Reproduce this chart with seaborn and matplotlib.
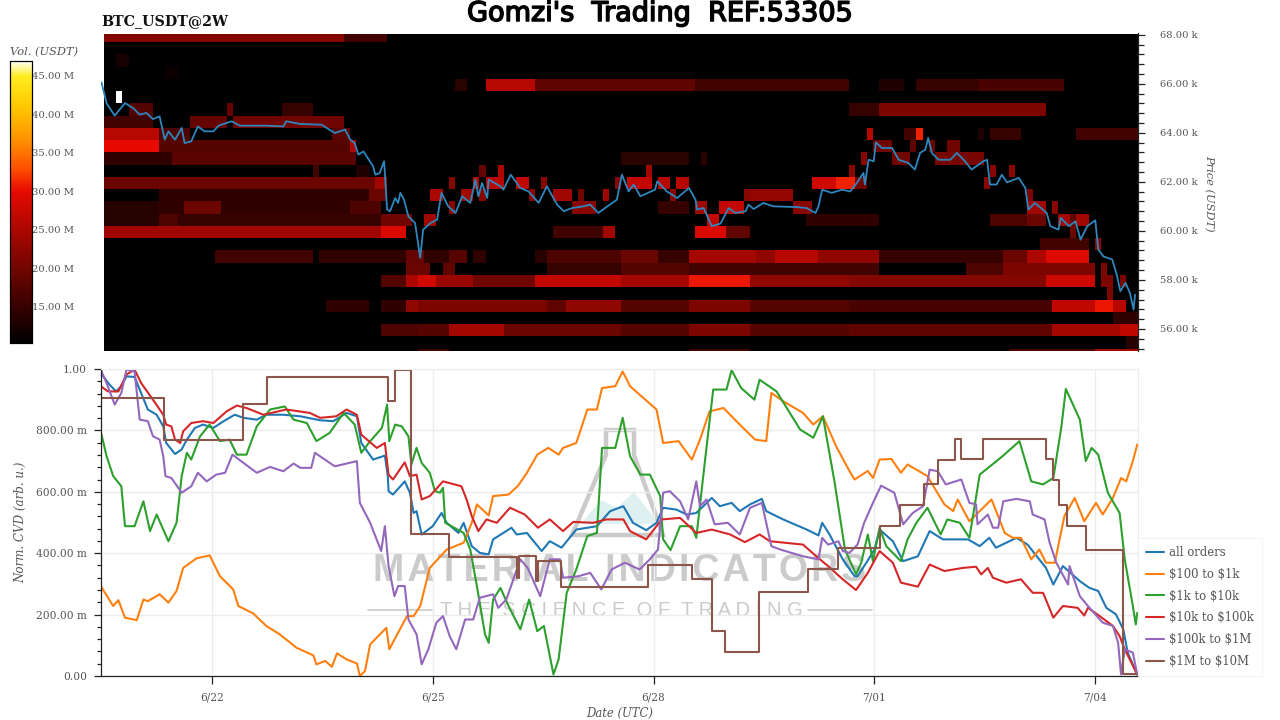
import numpy as np
import pandas as pd
import matplotlib
matplotlib.use("Agg")
import matplotlib.pyplot as plt
import matplotlib.patheffects as pe
import seaborn as sns
from matplotlib.colors import LinearSegmentedColormap
from matplotlib.patches import Polygon
from matplotlib.ticker import MultipleLocator

sns.set_style("white")
plt.rcParams["font.family"] = ["DejaVu Serif"]

# liquidity walls per price level: (first 2h column, last 2h column, volume in M USDT)
lvl_68000 = [(0, 39, 21.5), (39, 46, 16)]
lvl_67000 = [(2, 4, 12.4)]
lvl_66500 = [(10, 12, 11.5)]
lvl_66000 = [(57, 59, 14), (62, 70, 26), (70, 96, 18.5), (96, 121, 16), (126, 130, 13), (132, 142, 15), (142, 156, 16.5)]
lvl_65500 = [(2, 3, 47)]
lvl_65000 = [(4, 8, 17.5), (20, 21, 19), (29, 34, 15), (121, 126, 15), (126, 153, 21)]
lvl_64500 = [(0, 8, 16), (14, 20, 19), (21, 39, 20)]
lvl_64000 = [(0, 9, 26), (9, 14, 17), (37, 40, 18), (124, 125, 26), (130, 132, 16), (132, 133, 31), (142, 143, 13), (144, 149, 15), (158, 168, 16)]
lvl_63500 = [(0, 9, 30), (9, 40, 17.7), (40, 41, 25), (125, 128, 20), (131, 132, 18.5), (134, 135, 19), (137, 139, 20)]
lvl_63000 = [(0, 11, 14.4), (11, 41, 18), (84, 95, 14), (97, 98, 14), (123, 124, 22), (128, 131, 20), (135, 143, 20.5)]
lvl_62500 = [(34, 35, 16), (41, 43, 13), (61, 62, 19), (64, 65, 25), (88, 89, 24), (121, 122, 22), (144, 145, 22), (147, 148, 22)]
lvl_62000 = [(0, 44, 19.5), (44, 46, 24), (56, 57, 22), (60, 61, 26), (62, 65, 26), (67, 69, 27), (71, 72, 22), (83, 84, 22), (85, 89, 27),
             (90, 92, 26), (93, 95, 26), (115, 119, 28), (119, 122, 31), (122, 124, 20), (143, 144, 22)]
lvl_61500 = [(9, 43, 14.4), (43, 46, 19.4), (53, 55, 25), (58, 60, 24), (61, 62, 22), (69, 70, 22), (73, 76, 24), (77, 78, 20), (81, 82, 24),
             (92, 93, 22), (104, 105, 22), (105, 112, 23), (150, 151, 21)]
lvl_61000 = [(0, 9, 13.5), (9, 13, 14.4), (13, 19, 19.4), (19, 40, 14.4), (40, 45, 17), (56, 57, 22), (76, 80, 22), (90, 95, 15), (96, 98, 24),
             (100, 104, 27), (112, 115, 22), (150, 153, 24), (154, 155, 22)]
lvl_60500 = [(0, 9, 13.5), (9, 12, 17), (12, 45, 15), (45, 50, 20), (52, 54, 24), (98, 100, 27), (114, 126, 14.4), (144, 150, 17), (150, 153, 19.4),
             (155, 157, 24), (157, 158, 18.5), (158, 160, 24)]
lvl_60000 = [(0, 45, 24), (45, 49, 29), (73, 81, 16), (81, 83, 24), (96, 101, 29), (101, 105, 18.5), (157, 158, 19.4)]
lvl_59500 = [(152, 160, 16), (161, 162, 22)]
lvl_59000 = [(18, 34, 16), (35, 49, 14.4), (49, 52, 19), (52, 56, 14.4), (56, 59, 17.7), (60, 62, 14.4), (70, 72, 13.6), (72, 84, 17), (84, 90, 19.4),
             (90, 95, 15), (95, 106, 24.4), (106, 109, 22.7), (109, 116, 26), (116, 126, 22.7), (126, 146, 15), (146, 150, 19.4),
             (150, 153, 25), (153, 160, 29.3)]
lvl_58500 = [(49, 53, 19.4), (55, 57, 18.5), (72, 84, 15), (84, 95, 17.7), (95, 126, 16), (140, 146, 17), (146, 161, 21), (162, 163, 21)]
lvl_58000 = [(45, 49, 17.5), (49, 51, 25), (51, 54, 28), (54, 60, 23.5), (60, 70, 20), (70, 84, 27), (84, 95, 24.4), (95, 105, 30.5), (105, 121, 22.7),
             (121, 153, 21.5), (153, 161, 27.7), (162, 164, 21), (165, 166, 21)]
lvl_57500 = [(163, 164, 21)]
lvl_57000 = [(36, 43, 14.4), (45, 49, 14.4), (49, 51, 22.7), (51, 72, 21), (72, 75, 18.5), (75, 84, 22.7), (84, 95, 17.7), (95, 105, 21), (105, 121, 17.7),
             (121, 154, 16.5), (154, 161, 26.8), (161, 164, 30.5), (164, 166, 26)]
lvl_56500 = [(164, 168, 14.4)]
lvl_56000 = [(45, 51, 17), (51, 56, 17.7), (56, 65, 24.4), (65, 84, 19.4), (84, 95, 17.7), (95, 105, 21), (105, 121, 17.7), (121, 154, 18.5),
             (154, 165, 24.4), (165, 168, 26.8)]
lvl_55500 = [(166, 168, 13.6)]
lvl_55000 = [(51, 56, 16), (95, 105, 16), (147, 161, 17), (161, 168, 24.4)]

price_levels = [68000, 67000, 66500, 66000, 65500, 65000, 64500, 64000, 63500, 63000, 62500, 62000, 61500, 61000,
                60500, 60000, 59500, 59000, 58500, 58000, 57500, 57000, 56500, 56000, 55500, 55000]
level_runs = [lvl_68000, lvl_67000, lvl_66500, lvl_66000, lvl_65500, lvl_65000, lvl_64500, lvl_64000, lvl_63500, lvl_63000,
              lvl_62500, lvl_62000, lvl_61500, lvl_61000, lvl_60500, lvl_60000, lvl_59500, lvl_59000, lvl_58500, lvl_58000,
              lvl_57500, lvl_57000, lvl_56500, lvl_56000, lvl_55500, lvl_55000]

# price, x in days from 6/22
t_price = [-1.50, -1.43, -1.36, -1.32, -1.27, -1.18, -1.07, -.98, -.89, -.80, -.71, -.66, -.64, -.59, -.50, -.41, -.37, -.28, -.19, -.10, .02, .09, .27, .38,
           .74, .97, 1.01, 1.20, 1.49, 1.67, 1.81, 1.88, 1.94, 1.99, 2.06, 2.19, 2.22, 2.28, 2.34, 2.38, 2.42, 2.49, 2.53, 2.56, 2.61, 2.67, 2.76,
           2.83, 2.87, 2.97, 3.06, 3.12, 3.21, 3.31, 3.40, 3.51, 3.58, 3.62, 3.67, 3.74, 3.76, 3.92, 3.96, 4.06, 4.19, 4.30, 4.44, 4.55, 4.69, 4.78,
           4.89, 5.05, 5.14, 5.25, 5.34, 5.50, 5.57, 5.66, 5.73, 5.82, 6.02, 6.05, 6.18, 6.32, 6.48, 6.57, 6.59, 6.68, 6.79, 6.91, 7.02, 7.11, 7.25,
           7.29, 7.36, 7.49, 7.63, 7.95, 8.08, 8.20, 8.24, 8.29, 8.42, 8.56, 8.67, 8.76, 8.85, 8.87, 8.92, 8.99, 9.02, 9.10, 9.24, 9.33, 9.46, 9.55,
           9.62, 9.69, 9.73, 9.78, 9.87, 10.03, 10.12, 10.23, 10.32, 10.48, 10.53, 10.57, 10.66, 10.73, 10.80, 10.96, 11.05, 11.09, 11.18, 11.34,
           11.39, 11.50, 11.53, 11.64, 11.73, 11.80, 11.89, 12.00, 12.04, 12.11, 12.23, 12.29, 12.34, 12.41, 12.47, 12.52, 12.54]
v_price = [66.06, 65.2, 64.88, 64.70, 64.88, 65.21, 65.01, 64.74, 64.81, 64.56, 64.67, 63.99, 63.72, 64.06, 63.72, 64.20, 63.58, 63.65, 64.26, 64.06, 64.06, 64.29, 64.47, 64.29,
           64.29, 64.26, 64.47, 64.36, 64.33, 63.99, 64.13, 63.72, 63.58, 63.11, 63.24, 62.63, 62.29, 62.36, 62.84, 60.87, 60.80, 61.34, 61.14, 61.55, 61.27, 60.59, 60.32,
           58.90, 60.05, 60.32, 60.46, 61.55, 61.0, 60.73, 61.41, 61.14, 62.09, 61.41, 61.95, 61.34, 62.09, 61.82, 61.68, 62.29, 61.75, 61.61, 61.14, 61.82, 61.07, 60.80,
           60.93, 61.0, 61.07, 60.73, 60.93, 61.27, 62.29, 61.61, 61.89, 61.41, 61.68, 62.02, 61.61, 61.34, 61.75, 61.27, 60.87, 60.93, 60.19, 60.30, 60.93, 60.73, 60.80,
           61.07, 60.89, 61.14, 61.0, 60.97, 60.93, 60.73, 61.0, 61.68, 61.55, 61.68, 61.61, 61.95, 62.36, 61.89, 62.90, 62.84, 63.61, 63.38, 63.38, 62.90, 62.77, 62.50,
           63.18, 63.31, 63.79, 63.18, 62.90, 62.90, 63.18, 62.84, 62.50, 62.84, 62.90, 61.89, 61.89, 62.29, 61.98, 62.16, 61.75, 60.87, 61.14, 60.73,
           60.19, 60.05, 60.53, 60.19, 60.39, 59.64, 60.19, 60.43, 59.24, 58.96, 58.83, 58.22, 57.54, 57.88, 57.47, 56.79, 57.40]

# normalised CVD per order size
t_all = [-1.51, -1.39, -1.30, -1.23, -1.16, -1.05, -.98, -.87, -.75, -.66, -.62, -.50, -.41, -.34, -.23, -.12, .02, .16, .31, .43, .61, .74, .97, 1.20, 1.47, 1.65, 1.83, 1.97,
         2.03, 2.19, 2.35, 2.39, 2.40, 2.46, 2.62, 2.69, 2.74, 2.78, 2.85, 3.0, 3.12, 3.19, 3.35, 3.42, 3.53, 3.64, 3.76, 3.82, 4.07, 4.14, 4.28, 4.48, 4.59, 4.75, 4.95, 5.23,
         5.41, 5.59, 5.72, 5.90, 6.04, 6.13, 6.31, 6.45, 6.58, 6.79, 6.90, 7.06, 7.17, 7.31, 7.47, 7.53, 7.76, 8.08, 8.24, 8.29, 8.39, 8.57, 8.73, 8.77, 8.89, 9.0, 9.07, 9.25,
         9.39, 9.59, 9.75, 9.93, 10.27, 10.43, 10.56, 10.65, 10.93, 11.08, 11.33, 11.43, 11.56, 11.79, 11.92, 12.04, 12.15, 12.28, 12.38, 12.44, 12.57]
v_all = [.987, .949, .927, .944, .976, .974, .933, .868, .851, .813, .759, .723, .738, .770, .808, .819, .808, .830, .851, .841, .835, .851, .851, .846, .833, .830, .857, .846,
         .759, .705, .718, .651, .602, .591, .634, .597, .531, .537, .461, .488, .531, .499, .466, .499, .423, .401, .396, .445, .483, .461, .466, .407, .439, .418, .477, .488,
         .537, .553, .499, .475, .499, .548, .542, .526, .531, .580, .553, .564, .537, .559, .577, .537, .510, .477, .458, .499, .461, .380, .325, .325, .369, .412, .477, .439,
         .374, .390, .472, .445, .445, .423, .450, .418, .450, .428, .352, .298, .358, .309, .287, .277, .222, .201, .152, .076, .005]

t_100 = [-1.51, -1.34, -1.27, -1.18, -1.02, -.93, -.87, -.71, -.59, -.48, -.39, -.21, -.03, .11, .29, .36, .56, .74, .92, 1.15, 1.38, 1.42, 1.54, 1.63, 1.70, 1.83, 1.97, 2.01, 2.08,
         2.15, 2.37, 2.41, 2.53, 2.65, 2.74, 2.83, 2.96, 3.19, 3.42, 3.53, 3.60, 3.76, 3.82, 4.03, 4.16, 4.28, 4.42, 4.57, 4.71, 4.77, 4.95, 5.10, 5.23, 5.30, 5.48, 5.58, 5.68,
         5.86, 6.04, 6.13, 6.34, 6.52, 6.63, 6.76, 6.95, 7.17, 7.38, 7.53, 7.60, 7.76, 8.03, 8.17, 8.30, 8.48, 8.66, 8.73, 8.91, 8.98, 9.07, 9.23, 9.36, 9.45, 9.72, 9.95, 10.07,
         10.13, 10.29, 10.59, 10.77, 10.88, 10.99, 11.13, 11.24, 11.33, 11.45, 11.58, 11.72, 11.85, 12.01, 12.10, 12.24, 12.35, 12.42, 12.51, 12.57]
v_100 = [.293, .228, .247, .190, .182, .249, .244, .266, .239, .277, .352, .383, .393, .325, .282, .228, .204, .163, .136, .092, .067, .038, .049, .030, .074, .054, .041, .0, .016,
         .103, .157, .087, .141, .195, .195, .228, .352, .412, .434, .499, .559, .523, .586, .591, .620, .662, .721, .743, .721, .743, .759, .868, .868, .938, .944, .992, .944,
         .906, .868, .759, .765, .705, .770, .862, .873, .819, .770, .765, .922, .895, .857, .819, .846, .748, .668, .640, .668, .645, .705, .707, .662, .689, .651, .559, .537,
         .575, .504, .575, .466, .450, .450, .380, .412, .369, .369, .521, .580, .504, .564, .526, .580, .645, .634, .700, .754]

t_1k = [-1.51, -1.43, -1.34, -1.23, -1.18, -1.05, -.93, -.84, -.75, -.66, -.59, -.48, -.41, -.34, -.28, -.16, -.03, .11, .24, .34, .47, .61, .79, .99, 1.11, 1.29, 1.42, 1.60, 1.79, 1.94,
        2.03, 2.15, 2.31, 2.38, 2.41, 2.49, 2.58, 2.67, 2.71, 2.78, 2.85, 2.96, 3.03, 3.10, 3.14, 3.17, 3.42, 3.51, 3.60, 3.71, 3.76, 3.82, 3.92, 4.03, 4.19, 4.31, 4.42, 4.51, 4.64,
        4.71, 4.82, 4.95, 5.10, 5.23, 5.30, 5.48, 5.58, 5.68, 5.82, 5.95, 6.09, 6.13, 6.23, 6.36, 6.52, 6.58, 6.70, 6.81, 6.99, 7.06, 7.19, 7.37, 7.44, 7.67, 7.99, 8.17, 8.30,
        8.46, 8.60, 8.75, 8.82, 8.91, 8.98, 9.07, 9.16, 9.36, 9.45, 9.57, 9.72, 9.90, 9.99, 10.16, 10.29, 10.43, 10.74, 10.97, 11.13, 11.29, 11.43, 11.54, 11.60, 11.79, 11.87,
        11.95, 12.04, 12.17, 12.33, 12.40, 12.51, 12.55, 12.57]
v_1k = [.797, .716, .651, .618, .488, .488, .569, .472, .526, .477, .439, .499, .651, .727, .705, .781, .819, .765, .770, .721, .721, .813, .868, .878, .835, .824, .765, .792, .857, .819,
        .727, .765, .808, .884, .765, .819, .813, .781, .689, .743, .694, .662, .602, .597, .613, .499, .466, .412, .293, .136, .108, .249, .287, .228, .152, .249, .146, .163, .005,
        .054, .271, .347, .456, .466, .743, .743, .841, .716, .656, .656, .586, .445, .410, .488, .488, .450, .705, .933, .933, .996, .938, .900, .965, .927, .803, .776, .846,
        .629, .412, .331, .369, .461, .374, .483, .423, .374, .445, .499, .548, .461, .510, .499, .450, .656, .716, .765, .634, .624, .645, .813, .935, .835, .700,
        .743, .721, .597, .531, .380, .228, .168, .206]

t_10k = [-1.51, -1.41, -1.27, -1.16, -1.05, -.96, -.80, -.66, -.62, -.55, -.50, -.43, -.39, -.28, -.12, .02, .20, .34, .47, .70, 1.01, 1.33, 1.47, 1.69, 1.83, 1.97, 2.03, 2.24, 2.35,
         2.40, 2.46, 2.62, 2.69, 2.78, 2.85, 2.96, 3.14, 3.39, 3.46, 3.53, 3.62, 3.73, 3.87, 4.05, 4.25, 4.43, 4.59, 4.77, 4.91, 5.18, 5.36, 5.59, 5.68, 5.90, 6.11, 6.36, 6.58,
         6.79, 7.04, 7.24, 7.44, 7.58, 8.03, 8.21, 8.37, 8.57, 8.75, 8.91, 9.07, 9.25, 9.36, 9.59, 9.75, 9.95, 10.20, 10.38, 10.45, 10.54, 10.61, 10.79, 10.99, 11.15, 11.29,
         11.43, 11.56, 11.76, 11.85, 11.90, 12.06, 12.24, 12.33, 12.40, 12.57]
v_10k = [.944, .927, .927, .982, .998, .954, .900, .851, .819, .813, .770, .759, .797, .824, .830, .824, .862, .881, .873, .851, .868, .857, .841, .846, .868, .851, .786, .743, .759,
         .656, .640, .696, .651, .656, .575, .586, .634, .618, .575, .521, .472, .510, .499, .548, .526, .483, .510, .472, .502, .499, .510, .510, .472, .445, .510, .515, .466,
         .477, .461, .436, .461, .439, .428, .390, .358, .315, .280, .336, .407, .369, .304, .291, .363, .342, .352, .356, .331, .352, .320, .304, .315, .271, .271,
         .190, .228, .222, .197, .222, .195, .163, .130, .087, .005]

t_100k = [-1.51, -1.43, -1.32, -1.23, -1.16, -1.05, -.98, -.87, -.80, -.71, -.66, -.63, -.55, -.41, -.28, -.19, -.07, .06, .18, .28, .43, .61, .79, .97, 1.11, 1.20, 1.35, 1.40, 1.67, 1.97,
          2.01, 2.15, 2.30, 2.35, 2.40, 2.48, 2.53, 2.62, 2.67, 2.78, 2.85, 2.94, 3.05, 3.14, 3.23, 3.32, 3.44, 3.55, 3.64, 3.82, 3.89, 4.00, 4.19, 4.29, 4.46, 4.59, 4.73, 4.77, 4.98,
          5.14, 5.29, 5.43, 5.61, 5.81, 5.95, 6.06, 6.13, 6.22, 6.36, 6.47, 6.58, 6.63, 6.72, 6.83, 7.01, 7.17, 7.31, 7.47, 7.60, 7.72, 8.03, 8.24, 8.29, 8.37, 8.51, 8.57, 8.66,
          8.77, 8.86, 8.98, 9.09, 9.27, 9.39, 9.52, 9.66, 9.75, 9.86, 9.97, 10.18, 10.29, 10.38, 10.40, 10.54, 10.61, 10.68, 10.75, 10.93, 11.11, 11.15, 11.31, 11.38, 11.47, 11.63,
          11.65, 11.79, 11.90, 12.10, 12.24, 12.31, 12.35, 12.40, 12.51, 12.57]
v_100k = [.998, .954, .884, .922, .998, .992, .835, .830, .781, .770, .716, .651, .645, .597, .618, .662, .634, .656, .662, .721, .694, .662, .681, .667, .692, .678, .678, .727, .683, .700,
          .564, .499, .407, .488, .358, .260, .293, .293, .184, .136, .038, .087, .174, .195, .130, .087, .184, .184, .255, .266, .222, .249, .380, .352, .260, .380, .380, .320, .325,
          .336, .282, .347, .369, .347, .380, .412, .597, .602, .569, .510, .634, .553, .575, .494, .499, .461, .548, .564, .423, .412, .390, .380, .450, .428, .439, .407, .401,
          .428, .499, .564, .620, .597, .494, .531, .553, .672, .667, .624, .640, .564, .559, .494, .526, .483, .483, .569, .577, .569, .526, .510, .434, .369, .298,
          .358, .260, .228, .174, .163, .108, .005, .087, .076, .005]

t_1m = [-1.51, -.65, .42, .75, 2.39, 2.49, 2.70, 3.22, 4.14, 4.17, 4.40, 4.43, 4.74, 5.93, 6.52, 6.79, 6.97, 7.43, 8.10, 8.51, 9.07, 9.35, 9.67, 9.86, 10.09, 10.18, 10.47, 11.33, 11.43, 11.51, 11.61, 11.87, 12.38, 12.57]
v_1m = [.906, .770, .887, .973, .895, .998, .463, .388, .320, .390, .310, .374, .291, .360, .317, .146, .078, .273, .349, .418, .488, .556, .624, .702, .773, .707, .773, .707, .638, .556, .488, .412, .005, .005]

series_names = ["all orders", r"\$100 to \$1k", r"\$1k to \$10k", r"\$10k to \$100k", r"\$100k to \$1M", r"\$1M to \$10M"]
series_times = [t_all, t_100, t_1k, t_10k, t_100k, t_1m]
series_values = [v_all, v_100, v_1k, v_10k, v_100k, v_1m]
series_colors = sns.color_palette("tab10", 6)

price_ticks = [56000, 58000, 60000, 62000, 64000, 66000, 68000]
cvd_ticks = [0, .2, .4, .6, .8, 1.0]
cvd_labels = ["0.00", "200.00 m", "400.00 m", "600.00 m", "800.00 m", "1.00"]
date_ticks = [0, 3, 6, 9, 12]
date_labels = ["6/22", "6/25", "6/28", "7/01", "7/04"]
vol_ticks = [15, 20, 25, 30, 35, 40, 45]

start = pd.Timestamp("2024-06-22")
t_min, t_max = -1.51, 12.58
n_cols = 168
price_low, price_high = 55100, 68050
vol_min, vol_max = 10.3, 46.9
W, H = 1280, 720
grey = "#555555"
grid_col = "#ececec"


def to_dates(days):
    return start + pd.to_timedelta(np.asarray(days, dtype=float), unit="D")


def box(left, top, right, bottom):
    # pixel box of the reference to figure fractions
    return [left / W, 1 - bottom / H, (right - left) / W, (bottom - top) / H]


def fig_xy(px, py):
    return px / W, 1 - py / H


heat_cmap = LinearSegmentedColormap.from_list("book", [(0, "#000000"), (.538, "#e60a00"), (.62, "#ff5000"), (.73, "#ff9600"),
                                                       (.84, "#ffc800"), (.945, "#ffeb1e"), (.98, "#fff8a0"), (1, "#ffffff")])

book = np.zeros((27, n_cols))
for price, runs in zip(price_levels, level_runs):
    row = int((68000 - price) / 500)
    for a, b, vol in runs:
        book[row, a:b] = vol

fig = plt.figure(figsize=(12.8, 7.2), dpi=100)
ax_heat = fig.add_axes(box(104, 33.5, 1138, 351))
ax_price = fig.add_axes(box(100.7, 33.5, 1138, 351), facecolor="none")
ax_bar = fig.add_axes(box(9.5, 61, 31.5, 343))
ax_cvd = fig.add_axes(box(100.7, 369, 1138, 676))

sns.heatmap(book, ax=ax_heat, cmap=heat_cmap, vmin=vol_min, vmax=vol_max, cbar_ax=ax_bar,
            xticklabels=False, yticklabels=False, cbar_kws={"ticks": vol_ticks})
ax_heat.set_xlim(0, n_cols)
ax_heat.set_ylim((68200 - price_low) / 500, (68200 - price_high) / 500)
ax_heat.set_xlabel("")
ax_heat.set_ylabel("")

ax_bar.set_yticklabels([f"{v:.2f} M" for v in vol_ticks], color=grey, fontsize=7.2)
ax_bar.tick_params(axis="y", direction="in", length=3, pad=0, width=.8, color="#333333")
for s in ax_bar.spines.values():
    s.set_visible(True)
    s.set_color("black")
    s.set_linewidth(.8)
fig.text(*fig_xy(10, 52), "Vol. (USDT)", style="italic", color=grey, fontsize=8.2, ha="left", va="center")

sns.lineplot(x=to_dates(t_price), y=np.array(v_price) * 1000, ax=ax_price, color="#2f86bd", lw=1.3, estimator=None, sort=False)
ax_price.set_xlim(to_dates([t_min])[0], to_dates([t_max])[0])
ax_price.set_ylim(price_low, price_high)
ax_price.set_xticks([])
ax_price.yaxis.tick_right()
ax_price.set_yticks(price_ticks)
ax_price.set_yticklabels([f"{p / 1000:.2f} k" for p in price_ticks], color=grey, fontsize=7.2)
ax_price.yaxis.set_minor_locator(MultipleLocator(400))
ax_price.tick_params(axis="y", which="major", direction="out", length=5, width=.9, pad=11, color="#222222", right=True)
ax_price.tick_params(axis="y", which="minor", direction="out", length=4, width=.9, color="#222222", right=True)
ax_price.set_xlabel("")
ax_price.set_ylabel("")
for name in ["left", "top", "bottom"]:
    ax_price.spines[name].set_visible(False)
ax_price.spines["right"].set_color("#222222")
ax_price.spines["right"].set_linewidth(.9)
fig.text(*fig_xy(1209, 193), "Price (USDT)", style="italic", color=grey, fontsize=8.2, rotation=270, ha="center", va="center")

# watermark goes under the CVD lines
wm = "#cbcbcb"
ax_cvd.add_patch(Polygon([fig_xy(572, 535), fig_xy(606, 455), fig_xy(606, 430), fig_xy(634, 430), fig_xy(634, 455),
                          fig_xy(663, 535)], closed=True, fill=False, ec=wm, lw=3.2, transform=fig.transFigure, zorder=.5))
ax_cvd.add_patch(Polygon([fig_xy(581, 524), fig_xy(601, 500), fig_xy(617, 508), fig_xy(634, 492), fig_xy(656, 520), fig_xy(654, 524)],
                         closed=True, fc="#dff0f1", ec="none", transform=fig.transFigure, zorder=.4))
ax_cvd.text(*fig_xy(620, 571), "\u200a".join("MATERIAL INDICATORS"), transform=fig.transFigure, color=wm, fontsize=27, fontweight="bold",
            family=["Liberation Sans", "DejaVu Sans"], ha="center", va="center", zorder=.5)
ax_cvd.text(*fig_xy(621, 610), "T H E  S C I E N C E  O F  T R A D I N G", transform=fig.transFigure, color=wm, fontsize=14.5,
            family="Liberation Sans", ha="center", va="center", zorder=.5)
for x0, x1 in [(368, 432), (808, 872)]:
    ax_cvd.plot([x0 / W, x1 / W], [1 - 610 / H, 1 - 610 / H], color=wm, lw=1.2, transform=fig.transFigure, zorder=.5)

for name, days, vals, col in zip(series_names, series_times, series_values, series_colors):
    style = "steps-post" if name.endswith("10M") else "default"
    sns.lineplot(x=to_dates(days), y=vals, ax=ax_cvd, color=col, lw=1.5, label=name, estimator=None, sort=False, drawstyle=style)

ax_cvd.set_xlim(to_dates([t_min])[0], to_dates([t_max])[0])
ax_cvd.set_ylim(0, 1)
ax_cvd.set_xticks(to_dates(date_ticks))
ax_cvd.set_xticklabels(date_labels, color=grey, fontsize=7.6)
ax_cvd.set_yticks(cvd_ticks)
ax_cvd.set_yticklabels(cvd_labels, color=grey, fontsize=7.7)
ax_cvd.yaxis.set_minor_locator(MultipleLocator(.04))
ax_cvd.tick_params(axis="x", direction="out", length=6, width=.9, pad=6, color="#222222", bottom=True)
ax_cvd.tick_params(axis="y", which="major", direction="out", length=5, width=.9, pad=5, color="#222222", left=True)
ax_cvd.tick_params(axis="y", which="minor", direction="out", length=3, width=.9, color="#222222", left=True)
ax_cvd.grid(True, which="major", color=grid_col, lw=1)
ax_cvd.set_axisbelow(True)
for name in ["top", "right"]:
    ax_cvd.spines[name].set_color(grid_col)
for name in ["left", "bottom"]:
    ax_cvd.spines[name].set_color("#222222")
    ax_cvd.spines[name].set_linewidth(.9)
ax_cvd.set_xlabel("Date (UTC)", style="italic", color=grey, fontsize=8.4, labelpad=3)
ax_cvd.set_ylabel("Norm. CVD (arb. u.)", style="italic", color=grey, fontsize=8.6, labelpad=6)

leg = ax_cvd.legend(loc="lower left", bbox_to_anchor=(1.0, 0.0), borderaxespad=0, frameon=True, fancybox=False, fontsize=8.4,
                    labelspacing=.75, handlelength=1.55, handletextpad=.4, borderpad=.7, labelcolor=grey)
leg.get_frame().set_edgecolor("#f0f0f0")
leg.get_frame().set_linewidth(.8)

fig.text(*fig_xy(101, 21), "BTC_USDT@2W", fontweight="bold", color="#111111", fontsize=10.3, ha="left", va="center")
title = fig.text(*fig_xy(660, 14), "Gomzi's  Trading  REF:53305", family="DejaVu Sans", color="black", fontsize=19.5, ha="center", va="center")
title.set_path_effects([pe.withStroke(linewidth=1.1, foreground="black")])

fig.savefig("out.png", dpi=100)
